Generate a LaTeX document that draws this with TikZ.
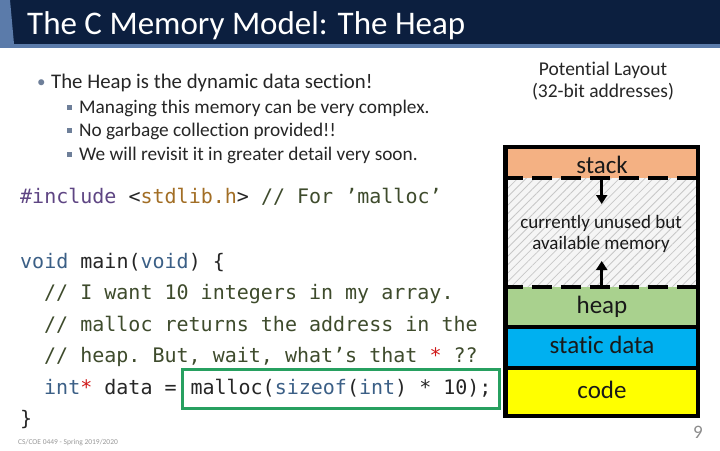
\documentclass[tikz,border=0pt]{standalone}
\usepackage{fontspec}
\setmainfont{Carlito}[Ligatures=NoCommon]
\setmonofont{DejaVu Sans Mono}
\usetikzlibrary{arrows.meta,patterns.meta}
\definecolor{BarClr}{HTML}{0C1F3F}
\definecolor{EdgeClr}{HTML}{5B7BAA}
\definecolor{BulletClr}{HTML}{6E7F99}
\definecolor{KeyClr}{HTML}{3B5F86}
\definecolor{CmtClr}{HTML}{3E4B2C}
\definecolor{IncClr}{HTML}{5E4583}
\definecolor{HdrClr}{HTML}{A26E25}
\definecolor{StarClr}{HTML}{D01818}
\definecolor{MarkClr}{HTML}{27A060}
\definecolor{StackClr}{HTML}{F4B183}
\definecolor{HeapClr}{HTML}{A9D18E}
\definecolor{StaticClr}{HTML}{00B0F0}
\definecolor{CodeClr}{HTML}{FFFF00}
\newcommand{\kwd}[1]{\textcolor{KeyClr}{#1}}
\newcommand{\cmt}[1]{\textcolor{CmtClr}{#1}}
\newcommand{\redstar}{\textcolor{StarClr}{*}}

\begin{document}
\begin{tikzpicture}[x=1pt,y=-1pt,
  txt/.style={anchor=base west,inner sep=0pt,text=black!85},
  ctxt/.style={anchor=base,inner sep=0pt,text=black!85},
  codeline/.style={anchor=base west,inner sep=0pt,text=black!85,
    font=\ttfamily\fontsize{20}{24}\selectfont},
  sqbul/.style={fill=BulletClr,inner sep=0pt,minimum size=5pt},
  seglbl/.style={inner sep=0pt,anchor=base,text=black!90,font=\fontsize{25}{30}\selectfont},
  gapline/.style={line width=4pt,dash pattern=on 20pt off 9pt,dash phase=4pt},
  growarrow/.style={-{Triangle[length=9pt,width=11pt]},line width=3pt}]
\fill[white] (0,0) rectangle (720,450);

% title bar
\fill[BarClr] (0,0) rectangle (720,44);
\fill[EdgeClr] (0,0) -- (10,0) -- (14,44) -- (0,44) -- cycle;
\fill[EdgeClr] (0,44) rectangle (720,48);
\node[txt,text=white,font=\fontsize{33}{38}\selectfont] (title) at (27,34) {The C Memory Model: The Heap};

% bullets
\node[txt,text=BulletClr,font=\fontsize{17}{20}\selectfont] (b0) at (37,87) {•};
\node[txt,font=\fontsize{20.8}{24}\selectfont] (l0) at (51,88) {The Heap is the dynamic data section!};
\node[sqbul] (b1) at (69.5,107) {};
\node[sqbul] (b2) at (69.5,130.5) {};
\node[sqbul] (b3) at (69.5,154) {};
\node[txt,font=\fontsize{19.3}{23}\selectfont] (l1) at (79,113) {Managing this memory can be very complex.};
\node[txt,font=\fontsize{19.3}{23}\selectfont] (l2) at (79,136.5) {No garbage collection provided!!};
\node[txt,font=\fontsize{19.3}{23}\selectfont] (l3) at (79,160) {We will revisit it in greater detail very soon.};

% code
\node[codeline] (inc) at (20,203) {\textcolor{IncClr}{\#include} <\textcolor{HdrClr}{stdlib.h}> \cmt{// For ’malloc’}};
\node[codeline] (fn) at (20,268) {\kwd{void} main(\kwd{void}) \{};
\node[codeline] (c1) at (44,299.5) {\cmt{// I want 10 integers in my array.}};
\node[codeline] (c2) at (44,331) {\cmt{// malloc returns the address in the}};
\node[codeline] (c3) at (44,362.5) {\cmt{// heap. But, wait, what’s that} \redstar{} \cmt{??}};
\node[codeline] (decl) at (44,394) {\kwd{int}\redstar{} data =};
\node[codeline,draw=MarkClr,line width=3pt,inner xsep=8pt,inner ysep=10pt,
  text height=15pt,text depth=4pt] (call) at (181,394) {malloc(\kwd{sizeof}(\kwd{int}) * 10);};
\node[codeline] (close) at (20,425) {\}};

% layout
\node[ctxt,font=\fontsize{19.5}{23}\selectfont] (head1) at (603,75) {Potential Layout};
\node[ctxt,font=\fontsize{19.5}{23}\selectfont] (head2) at (603,97) {(32-bit addresses)};
\fill[StackClr] (505,147) rectangle (698,178);
\fill[black!4] (505,178) rectangle (698,287);
\fill[pattern={Lines[angle=45,distance=6pt,line width=0.8pt]},pattern color=black!22] (505,178) rectangle (698,287);
\fill[HeapClr] (505,287) rectangle (698,327);
\fill[StaticClr] (505,327) rectangle (698,368);
\fill[CodeClr] (505,368) rectangle (698,416);
\draw[gapline] (507,178) -- (696,178);
\draw[gapline] (507,287) -- (696,287);
\draw[line width=4pt] (505,327) -- (698,327);
\draw[line width=4pt] (505,368) -- (698,368);
\draw[line width=4.5pt] (505.5,147) rectangle (698,416);

\coordinate (stackedge) at (601.7,179);
\coordinate (stacktip) at (601.7,204);
\coordinate (heapedge) at (601.7,286);
\coordinate (heaptip) at (601.7,261);
\draw[growarrow] (stackedge) -- (stacktip);
\draw[growarrow] (heapedge) -- (heaptip);

\node[seglbl] (stackLbl) at (602,173) {stack};
\node[ctxt,text=black!90,font=\fontsize{19}{23}\selectfont] (free1) at (601,228) {currently unused but};
\node[ctxt,text=black!90,font=\fontsize{19}{23}\selectfont] (free2) at (601,249) {available memory};
\node[seglbl] (heapLbl) at (602,313) {heap};
\node[seglbl] (staticLbl) at (602,353) {static data};
\node[seglbl] (codeLbl) at (602,398) {code};

% footer
\node[txt,text=black!40,font=\fontsize{7.5}{9}\selectfont] (foot) at (18,444) {CS/COE 0449 - Spring 2019/2020};
\node[inner sep=0pt,anchor=base east,text=black!45,font=\fontsize{19}{22}\selectfont] (page) at (703,438) {9};
\end{tikzpicture}
\end{document}
